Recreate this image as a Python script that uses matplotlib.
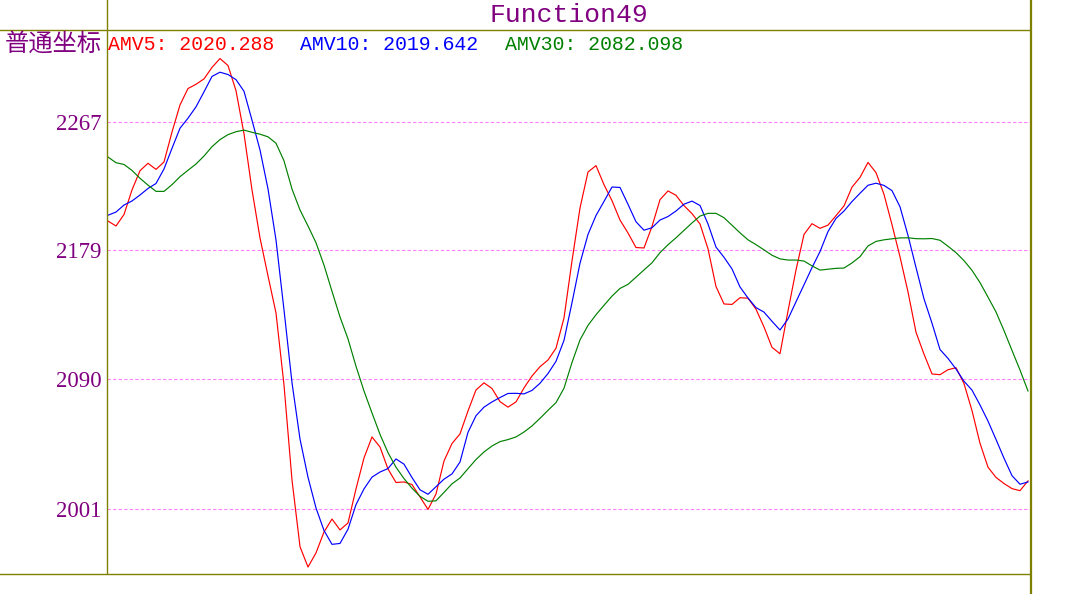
import matplotlib
matplotlib.use("Agg")
import matplotlib.pyplot as plt
from matplotlib.lines import Line2D
import numpy as np

# moving averages, one value every 8 px
amv5 = [2198.9, 2195.5, 2203.4, 2220.3, 2233.5, 2238.6, 2234.4, 2239.5, 2260.1, 2278.7,
        2290.0, 2292.9, 2296.6, 2304.5, 2310.6, 2305.8, 2288.5, 2258.9, 2220.3, 2187.3,
        2161.2, 2135.7, 2086.2, 2020.9, 1975.1, 1961.1, 1970.8, 1985.2, 1994.1, 1986.6,
        1991.4, 2014.8, 2036.1, 2050.5, 2043.6, 2028.5, 2019.2, 2019.6, 2017.8, 2009.3,
        2000.7, 2011.3, 2034.0, 2046.0, 2052.6, 2068.4, 2082.8, 2087.7, 2083.8, 2074.8,
        2071.0, 2074.6, 2084.2, 2092.4, 2098.8, 2103.4, 2111.5, 2132.3, 2171.5, 2207.9,
        2232.6, 2237.0, 2223.9, 2212.9, 2199.6, 2190.7, 2180.7, 2180.4, 2195.2, 2213.6,
        2219.6, 2216.6, 2209.5, 2204.0, 2196.9, 2179.8, 2153.9, 2141.9, 2141.6, 2146.2,
        2145.9, 2138.3, 2126.1, 2112.1, 2107.7, 2137.1, 2165.3, 2189.7, 2197.1, 2193.9,
        2196.1, 2202.6, 2209.3, 2222.2, 2228.9, 2239.2, 2232.2, 2217.2, 2196.4, 2174.3,
        2150.2, 2122.5, 2107.4, 2093.8, 2093.3, 2096.7, 2098.1, 2087.2, 2068.6, 2046.2,
        2029.7, 2022.7, 2018.5, 2015.0, 2013.6, 2020.3]

amv10 = [2202.9, 2205.1, 2209.9, 2212.7, 2216.8, 2221.3, 2224.7, 2234.7, 2248.9, 2262.7,
         2269.6, 2277.4, 2287.7, 2298.3, 2301.2, 2299.6, 2296.1, 2288.1, 2268.2, 2247.8,
         2221.0, 2185.9, 2137.8, 2087.8, 2049.1, 2022.8, 2001.7, 1986.2, 1976.7, 1977.3,
         1987.1, 2004.0, 2014.8, 2022.9, 2026.4, 2028.8, 2035.4, 2031.8, 2022.6, 2014.2,
         2011.1, 2016.3, 2021.5, 2025.1, 2033.3, 2053.7, 2065.1, 2071.0, 2074.6, 2077.6,
         2080.4, 2080.5, 2080.1, 2082.5, 2087.4, 2094.1, 2102.5, 2116.9, 2142.8, 2169.9,
         2189.7, 2202.7, 2212.4, 2222.3, 2222.0, 2210.4, 2198.4, 2192.6, 2194.3, 2199.6,
         2202.0, 2205.8, 2210.5, 2212.6, 2209.6, 2196.9, 2181.0, 2174.0, 2166.0, 2153.6,
         2146.0, 2139.4, 2136.3, 2130.0, 2124.0, 2131.6, 2143.4, 2155.1, 2166.9, 2177.9,
         2191.7, 2200.7, 2205.8, 2212.3, 2218.0, 2223.5, 2224.9, 2223.4, 2219.8, 2208.7,
         2189.0, 2167.0, 2145.4, 2128.7, 2110.6, 2104.5, 2097.2, 2088.8, 2082.7, 2072.5,
         2061.4, 2048.8, 2035.9, 2023.9, 2018.0, 2019.6]

amv30 = [2242.9, 2239.0, 2237.8, 2233.7, 2228.3, 2223.6, 2219.3, 2219.3, 2223.9, 2229.4,
         2233.8, 2238.1, 2243.6, 2250.0, 2254.9, 2258.3, 2260.3, 2261.4, 2259.9, 2258.6,
         2256.8, 2252.4, 2240.3, 2220.9, 2206.5, 2195.5, 2184.0, 2168.6, 2150.6, 2133.0,
         2117.9, 2099.1, 2082.1, 2067.0, 2052.3, 2039.7, 2029.7, 2021.9, 2015.3, 2009.7,
         2006.3, 2006.6, 2012.4, 2018.3, 2022.3, 2028.7, 2035.0, 2040.2, 2044.3, 2047.3,
         2048.7, 2050.5, 2053.9, 2058.1, 2063.3, 2068.8, 2074.1, 2084.0, 2101.7, 2117.2,
         2127.2, 2134.5, 2141.0, 2147.3, 2152.6, 2155.4, 2160.3, 2165.3, 2170.2, 2177.2,
         2182.6, 2187.4, 2192.5, 2197.6, 2202.3, 2204.2, 2204.2, 2201.2, 2196.0, 2190.8,
         2186.0, 2182.7, 2179.1, 2175.4, 2172.9, 2172.1, 2172.1, 2171.4, 2168.1, 2165.2,
         2165.8, 2166.4, 2166.6, 2170.1, 2174.4, 2181.8, 2184.9, 2186.0, 2186.7, 2187.3,
         2187.4, 2186.8, 2186.7, 2186.9, 2185.7, 2181.6, 2177.2, 2171.7, 2165.0, 2156.6,
         2146.6, 2136.4, 2123.6, 2110.0, 2096.5, 2082.1]

y_ticks = [2001, 2090, 2179, 2267]
title = "Function49"
axis_name = "普通坐标"
legend_labels = ["AMV5: 2020.288", "AMV10: 2019.642", "AMV30: 2082.098"]
colors = ["#ff0000", "#0000ff", "#008000"]

W, H = 1086, 594
PURPLE = "#800080"
OLIVE = "#808000"


def fx(px):
    return px / W


def fy(py):
    return 1 - py / H


fig = plt.figure(figsize=(W / 100, H / 100), dpi=100)
ax = fig.add_axes([fx(107), fy(573), 923 / W, 544 / H])

x = np.arange(len(amv5))
for series, c in zip([amv5, amv10, amv30], colors):
    ax.plot(x, series, color=c, lw=0.85)

ax.set_xlim(-0.125, 115.25)
ax.set_ylim(1957.0, 2330.9)
ax.set_xticks([])
ax.set_yticks(y_ticks)
ax.set_yticklabels([str(v) for v in y_ticks], fontfamily="Liberation Serif",
                   fontsize=16.5, color=PURPLE)
ax.tick_params(axis="y", length=0, pad=4)
ax.grid(axis="y", color="#ff80ff", linestyle=(0, (3, 2)), lw=0.8)
ax.set_axisbelow(True)
for sp in ax.spines.values():
    sp.set_visible(False)

# frame lines (they run past the plot area like in the original)
frame = [
    ([106.5, 106.5], [0, 573]),
    ([0, 1030], [29.5, 29.5]),
    ([0, 1030], [573.5, 573.5]),
]
for xs, ys in frame:
    fig.add_artist(Line2D([fx(v) for v in xs], [fy(v) for v in ys],
                          transform=fig.transFigure, color=OLIVE, lw=1.0))
fig.add_artist(Line2D([fx(1030.5)] * 2, [fy(0), fy(594)],
                      transform=fig.transFigure, color=OLIVE, lw=1.6))

fig.text(fx(568.5), fy(15), title, ha="center", va="center",
         fontfamily="Liberation Mono", fontsize=19, color=PURPLE)
fig.text(fx(5), fy(44), axis_name, ha="left", va="center",
         fontfamily="Noto Sans CJK SC", fontsize=17.5, color=PURPLE)
for label, c, px in zip(legend_labels, colors, [108, 300, 505]):
    fig.text(fx(px), fy(44), label, ha="left", va="center",
             fontfamily="Liberation Mono", fontsize=14.3, color=c)

fig.savefig("out.png", dpi=100)
